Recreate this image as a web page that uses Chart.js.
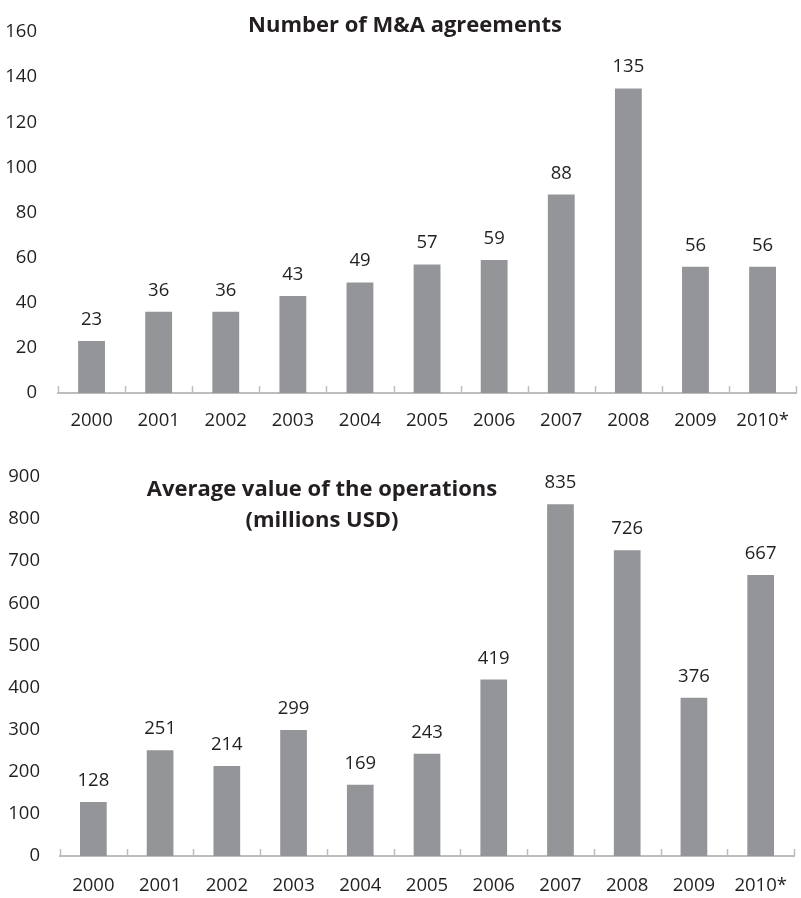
<!DOCTYPE html>
<html>
<head>
<meta charset="utf-8">
<script src="https://cdn.jsdelivr.net/npm/chart.js@4.4.1/dist/chart.umd.min.js"></script>
<style>
  html, body { margin: 0; padding: 0; background: #fff; }
  #wrap { width: 801px; height: 898px; overflow: hidden; position: relative; }
  canvas { display: block; }
</style>
</head>
<body>
<div id="wrap">
  <canvas id="top" width="806" height="445"></canvas>
  <canvas id="bottom" width="806" height="453"></canvas>
</div>
<script>
  const years = ['2000', '2001', '2002', '2003', '2004', '2005', '2006', '2007', '2008', '2009', '2010*'];
  const agreements = [23, 36, 36, 43, 49, 57, 59, 88, 135, 56, 56];
  const avgValue = [128, 251, 214, 299, 169, 243, 419, 835, 726, 376, 667];

  const FONT = '"Open Sans", Lato, sans-serif';
  const TEXT = '#231f20';
  const BAR = '#939598';
  const AXIS = '#bdbdbd';

  // value above each bar, small boundary marks on the x axis, and the inset title
  const decorPlugin = {
    id: 'decor',
    afterDraw: function (chart, args, opts) {
      const ctx = chart.ctx;
      const xs = chart.scales.x;
      const meta = chart.getDatasetMeta(0);
      const values = chart.data.datasets[0].data;
      ctx.save();

      ctx.strokeStyle = AXIS;
      ctx.lineWidth = 1.5;
      const n = chart.data.labels.length;
      const bottom = chart.chartArea.bottom;
      for (let i = 0; i <= n; i++) {
        const x = Math.round(xs.left + i * xs.width / n) + 0.5;
        ctx.beginPath();
        ctx.moveTo(x, bottom);
        ctx.lineTo(x, bottom - 7);
        ctx.stroke();
      }

      ctx.fillStyle = TEXT;
      ctx.font = '18.5px ' + FONT;
      ctx.textAlign = 'center';
      ctx.textBaseline = 'alphabetic';
      meta.data.forEach(function (bar, i) {
        ctx.fillText(String(values[i]), bar.x, bar.y - 16);
      });

      ctx.font = 'bold 22px ' + FONT;
      opts.lines.forEach(function (line, i) {
        ctx.fillText(line, opts.x, opts.y + i * opts.lineGap);
      });
      ctx.restore();
    }
  };

  function makeChart(id, values, cfg) {
    return new Chart(document.getElementById(id), {
      type: 'bar',
      data: {
        labels: years,
        datasets: [{
          data: values,
          backgroundColor: BAR,
          borderWidth: 0,
          categoryPercentage: 1,
          barPercentage: 0.4
        }]
      },
      options: {
        responsive: false,
        animation: false,
        layout: { padding: { top: cfg.top, right: cfg.right, left: 0, bottom: 0 } },
        plugins: {
          legend: { display: false },
          tooltip: { enabled: false },
          decor: { lines: cfg.title, x: cfg.titleX, y: cfg.titleY, lineGap: 31 }
        },
        scales: {
          x: {
            grid: { display: false, drawTicks: false },
            border: { display: true, color: AXIS, width: 2 },
            ticks: { color: TEXT, font: { family: FONT, size: 18.5 }, padding: cfg.xPad, maxRotation: 0 },
            afterFit: function (s) { s.height = cfg.xHeight; }
          },
          y: {
            min: 0,
            max: cfg.max,
            grid: { display: false, drawTicks: false },
            border: { display: false },
            ticks: { stepSize: cfg.step, color: TEXT, font: { family: FONT, size: 18.5 }, padding: cfg.yPad },
            afterFit: function (s) { s.width = cfg.yWidth; }
          }
        }
      },
      plugins: [decorPlugin]
    });
  }

  makeChart('top', agreements, {
    max: 160, step: 20, top: 14, right: 4, xHeight: 52, xPad: 17, yWidth: 58, yPad: 21,
    title: ['Number of M&A agreements'], titleX: 405, titleY: 32
  });

  makeChart('bottom', avgValue, {
    max: 900, step: 100, top: 32, right: 2, xHeight: 42, xPad: 19, yWidth: 60, yPad: 20,
    title: ['Average value of the operations', '(millions USD)'], titleX: 322, titleY: 51
  });
</script>
</body>
</html>
